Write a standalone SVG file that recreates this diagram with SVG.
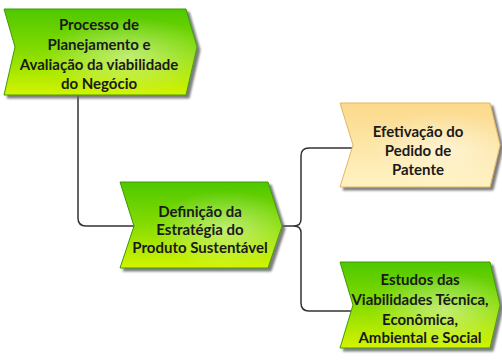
<svg xmlns="http://www.w3.org/2000/svg" width="502" height="360" viewBox="0 0 502 360">
<defs>
<linearGradient id="g" x1="0" y1="0" x2="0" y2="1">
<stop offset="0" stop-color="#4ec800"/>
<stop offset="0.5" stop-color="#86dc00"/>
<stop offset="1" stop-color="#d4f400"/>
</linearGradient>
<linearGradient id="y" x1="0" y1="0" x2="0" y2="1">
<stop offset="0" stop-color="#fbd98a"/>
<stop offset="1" stop-color="#fff3c4"/>
</linearGradient>
<radialGradient id="hl" cx="0.65" cy="0.55" r="0.45">
<stop offset="0" stop-color="#ffffff" stop-opacity="0.45"/>
<stop offset="1" stop-color="#ffffff" stop-opacity="0"/>
</radialGradient>
<filter id="sh" x="-10%" y="-10%" width="130%" height="130%">
<feDropShadow dx="3" dy="3" stdDeviation="1.2" flood-color="#666" flood-opacity="0.85"/>
</filter>
</defs>
<style>
.gn{fill:url(#g);stroke:#3f9a00;stroke-width:1}
.yn{fill:url(#y);stroke:#e2b860;stroke-width:1}
.h{fill:url(#hl);stroke:none}
text{font-family:"Lato","Liberation Sans",sans-serif;font-weight:bold;font-size:15px;fill:#1a1a1a;text-anchor:middle}
.c{fill:none;stroke:#333;stroke-width:1.5}
</style>
<g id="connectors">
<path class="c" d="M78,95 V218 Q78,226 86,226 H134"/>
<path class="c" d="M282,226 H294 Q301,226 301,219 V156 Q301,148 309,148 H352"/>
<path class="c" d="M294,226 Q301,226 301,233 V303 Q301,311 309,311 H351"/>
</g>
<g id="node1">
<polygon class="gn" filter="url(#sh)" points="4,9 186,9 197,47 186,95 4,95 15,47"/>
<polygon class="h" points="4,9 186,9 197,47 186,95 4,95 15,47"/>
<text x="99" y="30">Processo de</text>
<text x="99" y="50">Planejamento e</text>
<text x="99" y="70">Avaliação da viabilidade</text>
<text x="99" y="89">do Negócio</text>
</g>
<g id="node2">
<polygon class="gn" filter="url(#sh)" points="120,182 268,182 282,226 268,268 120,268 134,226"/>
<polygon class="h" points="120,182 268,182 282,226 268,268 120,268 134,226"/>
<text x="200" y="217">Definição da</text>
<text x="200" y="235">Estratégia do</text>
<text x="200" y="253">Produto Sustentável</text>
</g>
<g id="node3">
<polygon class="yn" filter="url(#sh)" points="340,103 490,103 500,145 490,187 340,187 353,145"/>
<polygon class="h" points="340,103 490,103 500,145 490,187 340,187 353,145"/>
<text x="418" y="137">Efetivação do</text>
<text x="418" y="156">Pedido de</text>
<text x="418" y="175">Patente</text>
</g>
<g id="node4">
<polygon class="gn" filter="url(#sh)" points="340,262 490,262 500,305 490,348 340,348 353,305"/>
<polygon class="h" points="340,262 490,262 500,305 490,348 340,348 353,305"/>
<text x="420" y="285">Estudos das</text>
<text x="420" y="305">Viabilidades Técnica,</text>
<text x="420" y="325">Econômica,</text>
<text x="420" y="343">Ambiental e Social</text>
</g>
</svg>
